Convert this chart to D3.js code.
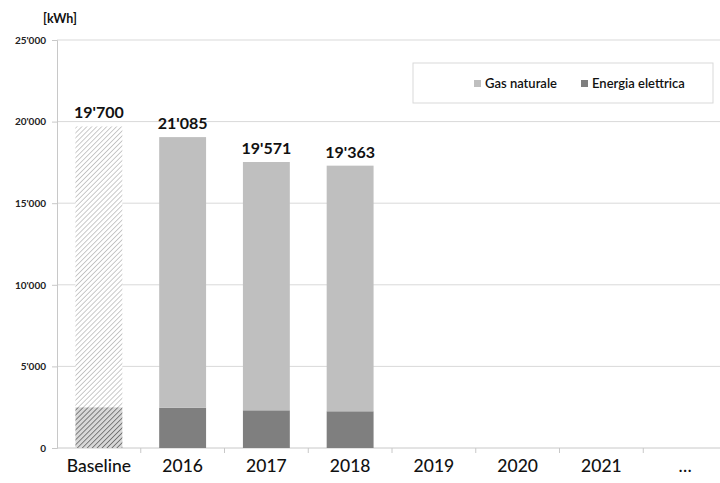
<!DOCTYPE html>
<html><head><meta charset="utf-8">
<script src="https://cdn.jsdelivr.net/npm/d3@7"></script>
<style>body{margin:0;background:#fff;} text{font-family:Lato,"Open Sans",sans-serif;}</style>
</head><body>
<svg id="c" width="720" height="483"></svg>
<script>
const categories = ["Baseline","2016","2017","2018","2019","2020","2021","…"];
const electricity = [2500, 2470, 2310, 2250, null, null, null, null];
const gas = [17200, 16580, 15215, 15050, null, null, null, null];
const totalLabels = ["19'700","21'085","19'571","19'363", null, null, null, null];
const yTicks = [0, 5000, 10000, 15000, 20000, 25000];
const seriesNames = ["Gas naturale","Energia elettrica"];

const svg = d3.select("#c");
const x = d3.scaleBand().domain(categories).range([57, 727]).paddingInner(0.44).paddingOuter(0.22);
const y = d3.scaleLinear().domain([0, 25000]).range([448, 40]);
const fmt = v => v === 0 ? "0" : d3.format(",")(v).replace(/,/g, "'");

const defs = svg.append("defs");
function hatch(id, color, bg){
  const p = defs.append("pattern").attr("id", id).attr("patternUnits","userSpaceOnUse")
    .attr("width", 3.5).attr("height", 3.5).attr("patternTransform","rotate(45)");
  p.append("rect").attr("width",3.5).attr("height",3.5).attr("fill",bg);
  p.append("line").attr("x1",0).attr("y1",0).attr("x2",0).attr("y2",3.5).attr("stroke",color).attr("stroke-width",1.5);
}
hatch("hLight", "#b8b8b8", "#ffffff");
hatch("hDark", "#5e5e5e", "#d8d8d8");

// gridlines
svg.append("g").selectAll("line").data(yTicks.filter(d=>d>0)).join("line")
  .attr("x1", 57).attr("x2", 720).attr("y1", d=>y(d)).attr("y2", d=>y(d))
  .attr("stroke", "#d9d9d9").attr("stroke-width", 1);

// y axis
const yAxis = svg.append("g").attr("transform","translate(57,0)")
  .call(d3.axisLeft(y).tickValues(yTicks).tickFormat(fmt).tickSize(5).tickPadding(6));
yAxis.select(".domain").attr("stroke","#c8c8c8");
yAxis.selectAll(".tick line").attr("stroke","#c8c8c8");
yAxis.selectAll(".tick text").attr("font-size", 10).attr("font-weight","bold").attr("fill","#222");

// x axis
const xAxis = svg.append("g").attr("transform","translate(0,448)")
  .call(d3.axisBottom(x).tickSize(0).tickPadding(12));
xAxis.select(".domain").attr("stroke","#c8c8c8").attr("d","M57,0H720");
xAxis.selectAll(".tick text").attr("font-size", 17.5).attr("font-weight", 500).attr("fill","#111");
// tick marks at band boundaries
svg.append("g").selectAll("line").data(categories.slice(1)).join("line")
  .attr("x1", d=>x(d) - x.step()*x.paddingInner()/2).attr("x2", d=>x(d) - x.step()*x.paddingInner()/2)
  .attr("y1", 448).attr("y2", 453).attr("stroke","#c8c8c8");

// bars
const idx = d3.range(categories.length).filter(i => electricity[i] != null);
const g = svg.append("g");
g.selectAll("rect.el").data(idx).join("rect").attr("class","el")
  .attr("x", i=>x(categories[i])).attr("width", x.bandwidth())
  .attr("y", i=>y(electricity[i])).attr("height", i=>y(0)-y(electricity[i]))
  .attr("fill", i=> i===0 ? "url(#hDark)" : "#7f7f7f");
g.selectAll("rect.gas").data(idx).join("rect").attr("class","gas")
  .attr("x", i=>x(categories[i])).attr("width", x.bandwidth())
  .attr("y", i=>y(electricity[i]+gas[i])).attr("height", i=>y(electricity[i])-y(electricity[i]+gas[i]))
  .attr("fill", i=> i===0 ? "url(#hLight)" : "#bfbfbf");
g.selectAll("text.tot").data(idx).join("text").attr("class","tot")
  .attr("x", i=>x(categories[i]) + x.bandwidth()/2)
  .attr("y", i=>y(electricity[i]+gas[i]) - 8)
  .attr("text-anchor","middle").attr("font-size",16).attr("font-weight","bold").attr("fill","#111")
  .text(i=>totalLabels[i]);

// unit
svg.append("text").attr("x", 43).attr("y", 23).attr("font-size", 12.5).attr("font-weight","bold").attr("fill","#111").text("[kWh]");

// legend
const lg = svg.append("g");
lg.append("rect").attr("x", 413).attr("y", 63).attr("width", 300).attr("height", 40)
  .attr("fill","#fff").attr("stroke","#d9d9d9");
const legendColors = ["#bfbfbf","#7f7f7f"];
const legendX = [474, 581];
seriesNames.forEach((n,i)=>{
  lg.append("rect").attr("x", legendX[i]).attr("y", 80).attr("width", 7).attr("height", 7).attr("fill", legendColors[i]);
  lg.append("text").attr("x", legendX[i]+11).attr("y", 88).attr("font-size", 13).attr("font-weight",600).attr("fill","#111").text(n);
});
</script>
</body></html>
